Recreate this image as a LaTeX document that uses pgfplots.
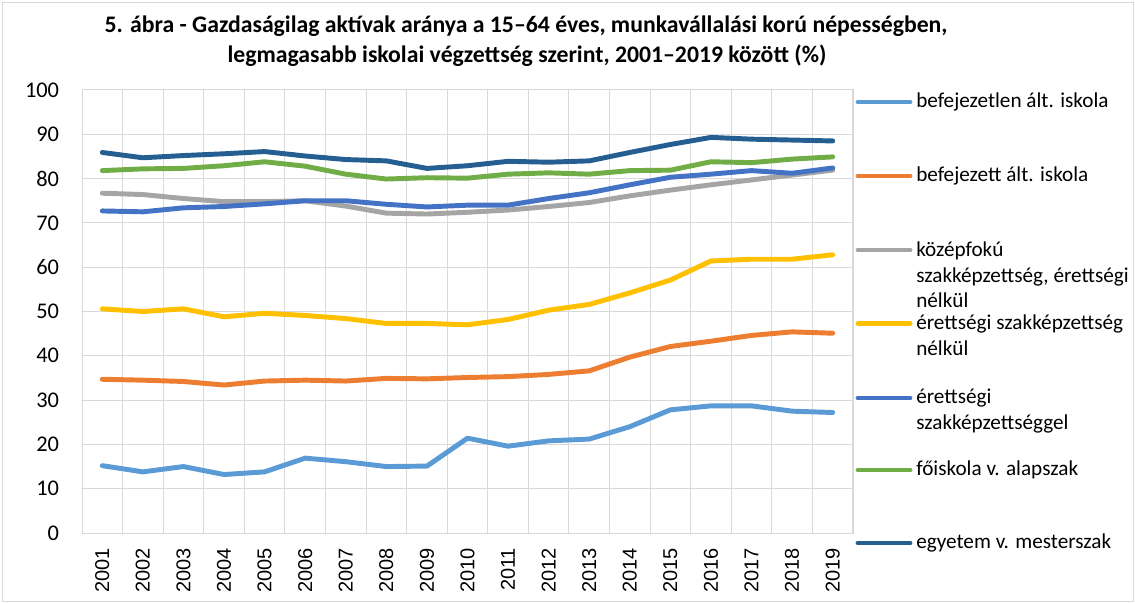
\documentclass[border=0pt]{standalone}
\usepackage{fontspec}
\setmainfont{Carlito}
\newfontfamily\arialf{Liberation Sans}
\usepackage{pgfplots}
\usepackage{pgfplotstable}
\pgfplotsset{compat=1.18}
\definecolor{c1}{HTML}{5B9BD5}
\definecolor{c2}{HTML}{ED7D31}
\definecolor{c3}{HTML}{A5A5A5}
\definecolor{c4}{HTML}{FFC000}
\definecolor{c5}{HTML}{4472C4}
\definecolor{c6}{HTML}{70AD47}
\definecolor{c7}{HTML}{255E91}
\definecolor{gridc}{HTML}{D9D9D9}
\pgfplotstableread{
year bef befz kozep erettsz erettszk foisk egyet
2001 15.2 34.7 76.7 50.6 72.7 81.8 85.9
2002 13.8 34.5 76.4 50.0 72.5 82.2 84.7
2003 15.0 34.2 75.5 50.6 73.4 82.3 85.2
2004 13.2 33.4 74.8 48.8 73.7 82.9 85.6
2005 13.8 34.3 74.8 49.6 74.3 83.8 86.1
2006 16.9 34.5 75.0 49.1 75.0 82.8 85.1
2007 16.1 34.3 73.8 48.4 75.0 81.0 84.3
2008 15.0 34.9 72.2 47.3 74.2 79.9 84.0
2009 15.1 34.8 72.0 47.3 73.6 80.2 82.3
2010 21.4 35.1 72.4 47.0 74.0 80.1 82.9
2011 19.6 35.3 72.9 48.2 74.0 81.0 83.9
2012 20.8 35.8 73.7 50.3 75.5 81.3 83.7
2013 21.2 36.6 74.6 51.6 76.8 81.0 84.0
2014 24.0 39.7 76.1 54.2 78.6 81.8 85.9
2015 27.8 42.1 77.4 57.1 80.3 81.9 87.7
2016 28.7 43.3 78.6 61.4 81.0 83.8 89.3
2017 28.7 44.6 79.7 61.8 81.8 83.6 88.9
2018 27.5 45.4 80.8 61.8 81.2 84.4 88.7
2019 27.2 45.1 81.9 62.8 82.4 84.9 88.5
}\datatable
\newcommand{\legf}{\fontsize{15.9}{18}\selectfont}
\begin{document}
\begin{tikzpicture}
\useasboundingbox (0,0) rectangle (851.25pt,452.25pt);
\draw[gridc, line width=0.75pt] (1.5pt,0.75pt) rectangle (850pt,450.5pt);
\begin{axis}[
  at={(61.5pt,52.5pt)}, anchor=south west,
  scale only axis, width=578.25pt, height=332.25pt,
  xmin=2000.5, xmax=2019.5, ymin=0, ymax=100,
  xtick={2001,...,2019}, ytick={0,10,...,100},
  minor xtick={2000.5,2001.5,...,2019.5},
  xmajorgrids=false, xminorgrids=true, ymajorgrids=true,
  grid style={gridc, line width=0.75pt},
  minor grid style={gridc, line width=0.75pt},
  axis line style={gridc, line width=0.75pt},
  major tick length=0pt, minor tick length=0pt,
  /pgf/number format/assume math mode=true,
  /pgf/number format/1000 sep={},
  yticklabel style={font=\fontsize{16.8}{18}\selectfont, anchor=east, inner sep=0pt, xshift=-17pt},
  xticklabel style={font=\arialf\fontsize{15}{18}\selectfont, rotate=90, anchor=east, inner sep=0pt, xshift=-11pt},
  every axis plot/.append style={line width=3.7pt, line cap=round, line join=round, mark=none},
]
\addplot[c1] table[x=year, y=bef] {\datatable};
\addplot[c2] table[x=year, y=befz] {\datatable};
\addplot[c3] table[x=year, y=kozep] {\datatable};
\addplot[c4] table[x=year, y=erettsz] {\datatable};
\addplot[c5] table[x=year, y=erettszk] {\datatable};
\addplot[c6] table[x=year, y=foisk] {\datatable};
\addplot[c7] table[x=year, y=egyet] {\datatable};
\end{axis}
\begin{scope}[x=0.75pt, y=-0.75pt, shift={(0,452.25pt)}]
\node[anchor=base, inner sep=0, font=\bfseries\fontsize{17.8}{20}\selectfont] at (526,33) {5. ábra - Gazdaságilag aktívak aránya a 15–64 éves, munkavállalási korú népességben,};
\node[anchor=base, inner sep=0, font=\bfseries\fontsize{17.8}{20}\selectfont] at (527,63) {legmagasabb iskolai végzettség szerint, 2001–2019 között (\%)};
\tikzset{lg/.style={line width=3.7pt, line cap=round}, lt/.style={anchor=base west, inner sep=0, font=\legf}}
\draw[lg, c1] (858,102) -- (910,102);
\node[lt] at (916,108) {befejezetlen ált. iskola};
\draw[lg, c2] (858,176) -- (910,176);
\node[lt] at (916,182) {befejezett ált. iskola};
\draw[lg, c3] (858,250) -- (910,250);
\node[lt] at (916,256.5) {középfokú};
\node[lt] at (916,282.5) {szakképzettség, érettségi};
\node[lt] at (916,308) {nélkül};
\draw[lg, c4] (858,323.5) -- (910,323.5);
\node[lt] at (916,329.5) {érettségi szakképzettség};
\node[lt] at (916,355.5) {nélkül};
\draw[lg, c5] (858,398) -- (910,398);
\node[lt] at (916,404) {érettségi};
\node[lt] at (916,429.5) {szakképzettséggel};
\draw[lg, c6] (858,470) -- (910,470);
\node[lt] at (916,476) {főiskola v. alapszak};
\draw[lg, c7] (858,543) -- (910,543);
\node[lt] at (916,549) {egyetem v. mesterszak};
\end{scope}
\end{tikzpicture}
\end{document}
